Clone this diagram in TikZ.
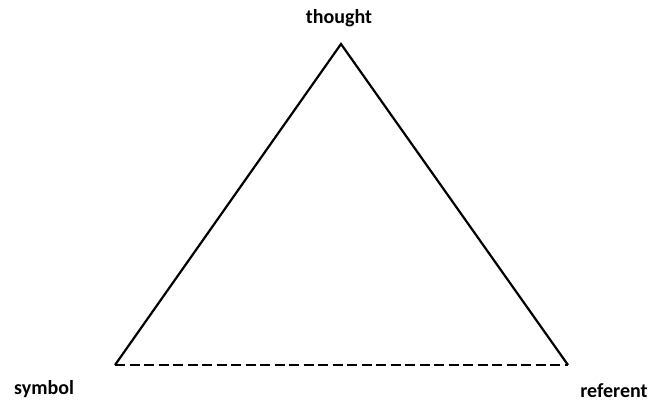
\documentclass[tikz,border=0pt]{standalone}
\usepackage{fontspec}
\setmainfont{Carlito}
\begin{document}
\begin{tikzpicture}[x=1pt,y=-1pt,
  lbl/.style={font=\fontsize{20}{24}\selectfont\bfseries, inner sep=0pt},
  edge/.style={line width=2.2pt, line join=miter},
  dashedge/.style={line width=2.2pt, dash pattern=on 10pt off 4.5pt}]
\useasboundingbox (0,0) rectangle (654,406);
\coordinate (T) at (341,44);
\coordinate (S) at (115,365);
\coordinate (R) at (568,365);
\draw[edge] (S) -- (T) -- (R);
\draw[dashedge] (S) -- (R);
\node[lbl] (thought) at (339,18) {thought};
\node[lbl] (symbol) at (44,389) {symbol};
\node[lbl] (referent) at (614,391) {referent};
\end{tikzpicture}
\end{document}
